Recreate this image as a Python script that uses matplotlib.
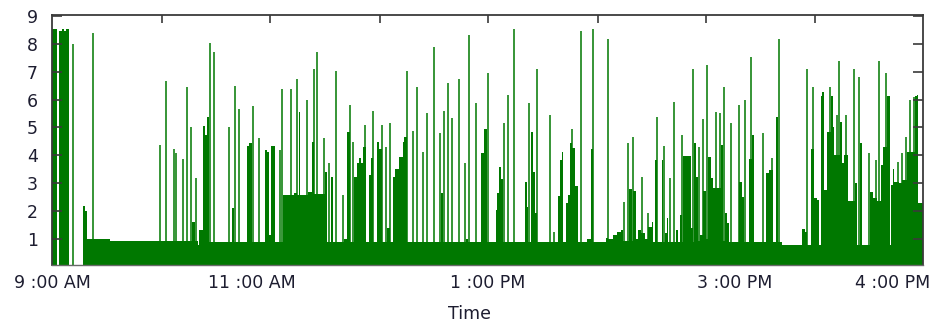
import numpy as np
import matplotlib
matplotlib.use('Agg')
import matplotlib.pyplot as plt


### Data (x = sample index across the trading day, y = load)

# sustained level: step starts and level held until the next start
base_start = [0, 5, 7, 9.5, 12, 14, 16.5, 30.5, 32.5, 34.5, 58,
              140, 142.5, 145.5, 147, 151.3, 153, 155.3, 157.3, 180, 182,
              194.7, 197, 199.7, 213, 214.7, 217.3, 219.3, 223.3,
              230.7, 242, 244.5, 246.5, 248, 256, 259.5, 261.5, 272.5, 275.3,
              278.7, 281.3, 291.5, 294.7, 298, 302, 304.7, 307.3, 308.7, 310.7,
              313.7, 316.7, 318.7, 321, 324.7, 327, 330, 335.3, 337.5, 341.3,
              343, 347.3, 350.7, 352, 354.5, 388.7, 391.3, 414, 416.3, 429,
              432, 434.5, 443.7, 445.3, 447.3, 449, 450.7, 473, 474.7, 476.3,
              478.7, 481.3, 482.7, 484.7, 506.3, 508, 509.7, 511.3, 513.7,
              515.7, 518, 519.7, 523, 525.7, 534.7, 538.5, 540.7, 554, 556.3,
              560.7, 564.7, 568.7, 571, 577.3, 579.7, 581.3, 583.7, 586, 589,
              593, 596, 599.7, 601.3, 603, 604.7, 609.7, 611.3, 613, 614.7,
              616.3, 623.7, 625.7, 628, 629.7, 631.3, 638.7, 641, 642.3, 644,
              646.3, 648, 651.3, 653.5, 656.3, 659, 661.3, 668.7, 671.3, 673,
              675.3, 677.3, 687.3, 690, 691.5, 697, 700, 702, 714, 717, 720.5,
              724, 726, 730, 750.3, 753, 754.7, 758.7, 762, 764.7, 766.7,
              768.7, 770.3, 772.3, 775.3, 779, 780.7, 782.3, 788, 789.7, 792,
              796, 803, 805, 807.5, 809.7, 818, 820.7, 824.5, 828.7, 831.3,
              835.3, 837.5, 838.7, 840.7, 842, 847.3, 849.7, 855.3, 863.3,
              865.3, 866.3]
base_level = [8.55, 0, 8.45, 8.55, 8.45, 8.55, 0, 2.17, 2.0, 1.0, 0.9,
              1.6, 0.9, 0.78, 1.3, 5.04, 4.72, 5.36, 0.88, 2.11, 0.88,
              4.33, 4.43, 0.88, 4.19, 4.13, 1.13, 4.33, 0.88,
              2.57, 2.65, 2.57, 5.57, 2.57, 2.69, 4.49, 2.6, 3.41, 0.88,
              3.23, 0.88, 0.97, 4.84, 0.88, 3.23, 3.71, 3.91, 3.71, 4.28,
              0.88, 3.29, 3.91, 0.88, 4.49, 4.21, 0.88, 1.4, 0.88, 3.2,
              3.49, 3.92, 4.48, 4.64, 0.89, 2.63, 0.89, 0.97, 0.89, 4.07,
              4.93, 0.89, 2.03, 2.63, 3.56, 3.13, 0.89, 3.05, 2.12, 0.89,
              4.84, 3.41, 1.93, 0.89, 2.54, 3.83, 4.13, 0.89, 2.27,
              2.57, 4.43, 4.27, 2.89, 0.89, 0.97, 4.21, 0.89, 1.03, 0.97,
              1.13, 1.25, 1.31, 0.92, 2.77, 0.92, 2.71, 1.0, 1.31, 1.19,
              1.0, 1.43, 1.61, 0.88, 3.83, 0.88, 3.83, 0.88, 1.19, 1.73,
              0.89, 1.31, 0.89, 1.85, 0.89, 3.96, 1.37, 0.89, 4.43, 3.23,
              0.9, 1.13, 2.7, 1.0, 3.92, 3.17, 2.81, 4.37, 0.9, 1.91,
              1.55, 0.88, 3.05, 2.5, 0.88, 3.85, 4.72, 0.88, 3.35, 3.47, 0.88,
              5.36, 0.88, 0.77, 1.33, 1.25, 0.77, 4.21, 2.45, 2.39, 0.77,
              6.13, 6.28, 2.75, 4.84, 6.13, 5.03, 4.0, 5.21, 3.73, 4.0,
              2.36, 2.99, 0.77, 4.43, 0.77, 2.69, 2.45, 2.36, 3.65, 4.31,
              6.13, 0.77, 2.93, 3.49, 3.05, 2.99, 3.11, 4.13, 6.13,
              6.16, 2.27]
day_end = 871

# short peaks
spike_pos = [21.3, 41.3, 108, 114, 122, 124, 131.3, 135.3, 139, 143.7,
             158, 162, 176.5, 183, 187.3, 201.3, 207.3, 228, 229.7, 238.7,
             244.7, 254.7, 261.7, 265.3, 272, 277.3, 284, 290.7, 298, 300.7,
             313.3, 321.3, 330, 333.7, 338.3, 355, 360.7, 365.3, 371.3, 375.3,
             382, 388, 392.3, 396.3, 400.3, 406.7, 413, 417.3, 423.7, 435.7,
             452, 456.3, 462.3, 477.3, 485.3, 498, 502, 520, 529, 541.3,
             556.3, 572, 576.3, 580.7, 589.7, 595.7, 605.3, 612, 618, 622.3,
             630.3, 641.3, 647, 651.3, 655.3, 663.7, 668, 672.3, 678.7, 686.7,
             692.7, 699, 711.3, 720, 726.7, 755.3, 761, 778, 784.7, 786.7,
             793.7, 802, 807, 817, 824, 827.3, 834, 846.3, 850, 854,
             858, 862.3]
spike_val = [8.0, 8.38, 4.37, 6.67, 4.21, 4.07, 3.85, 6.44, 5.0, 3.19,
             8.02, 7.72, 5.0, 6.49, 5.65, 5.77, 4.63, 4.19, 6.37, 6.37,
             6.73, 6.0, 7.09, 7.72, 4.63, 3.71, 7.03, 2.57, 5.8, 4.49,
             5.08, 5.59, 5.08, 4.28, 5.14, 7.04, 4.87, 6.44, 4.12, 5.5,
             7.88, 4.78, 5.59, 6.58, 5.35, 6.73, 3.71, 8.32, 5.86, 6.97,
             5.14, 6.16, 8.53, 5.86, 7.09, 5.43, 1.25, 4.93, 8.48, 8.54,
             8.17, 2.33, 4.43, 4.64, 3.2, 1.91, 5.36, 4.33, 3.19, 5.92,
             4.72, 7.09, 4.31, 5.29, 7.24, 5.56, 5.5, 6.44, 5.14, 5.8,
             6.0, 7.54, 4.78, 3.91, 8.17, 7.09, 6.44, 6.44, 5.45, 7.4,
             5.45, 7.09, 6.8, 4.07, 3.83, 7.37, 6.94, 3.77, 4.07, 4.64,
             6.0, 6.08]

time_pos = [0, 199.7, 435.5, 683, 840.7]
time_labels = ['9 :00 AM', '11 :00 AM', '1 :00 PM', '3 :00 PM', '4 :00 PM']
top_ticks = [110, 218, 328, 436, 546, 654, 763]
y_ticks = [1, 2, 3, 4, 5, 6, 7, 8, 9]


### Style
green = '#007800'
ink = '#1d1d30'
edge = '#3a3a3a'
fs = 12.5

fig = plt.figure(figsize=(9.36, 3.24), dpi=100)
ax = fig.add_axes([52/936, 1 - 264.5/324, 871/936, 249.5/324])

edges = base_start + [day_end]
ax.stairs(base_level, edges, fill=True, color=green, lw=0, zorder=1)
ax.vlines(spike_pos, 0, spike_val, color=green, lw=1.1, zorder=1.5)

ax.set_xlim(0, day_end)
ax.set_ylim(0.07, 9.04)

ax.set_yticks(y_ticks)
ax.set_yticklabels([str(v) for v in y_ticks])
ax.tick_params(axis='y', direction='in', length=7, width=1.2, color=edge,
               left=True, right=True, pad=10, labelsize=fs, labelcolor=ink)

ax.set_xticks(time_pos)
ax.set_xticklabels(time_labels)
ax.tick_params(axis='x', length=0, pad=6.5, labelsize=fs, labelcolor=ink)

top = ax.secondary_xaxis('top')
top.set_xticks(top_ticks)
top.tick_params(direction='in', length=6, width=1.2, color=edge, labeltop=False)
top.spines['top'].set_visible(False)

for s in ax.spines.values():
    s.set_color(edge)
    s.set_linewidth(1.3)
ax.spines['bottom'].set_color('#6a6a6a')
ax.spines['bottom'].set_linewidth(1.0)

fig.text(469/936, 1 - 314/324, 'Time', ha='center', va='center',
         fontsize=fs, color=ink)

fig.savefig('out.png', dpi=100)
